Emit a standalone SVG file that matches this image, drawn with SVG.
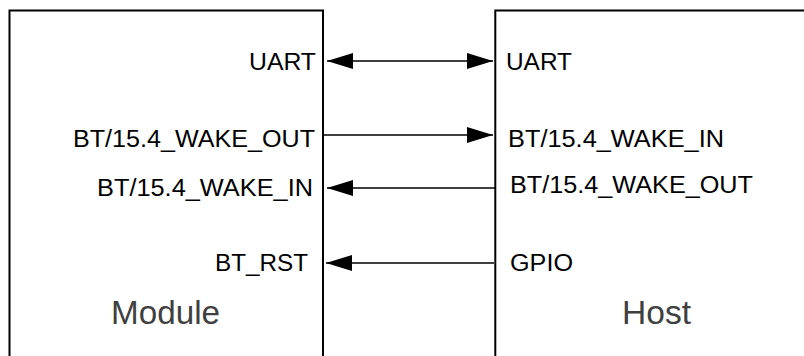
<svg xmlns="http://www.w3.org/2000/svg" width="804" height="356" viewBox="0 0 804 356">
<style>
.box{fill:none;stroke:#000;stroke-width:2}
.lbl{font-family:"Liberation Sans",Arial,sans-serif;font-size:23px;fill:#000}
.title{font-family:"Liberation Sans",Arial,sans-serif;font-size:33px;fill:#404040}
.wire{stroke:#000;stroke-width:1.6;fill:none}
</style>
<defs>
<marker id="ah" viewBox="0 0 26 16" refX="26" refY="8" markerWidth="26" markerHeight="16" markerUnits="userSpaceOnUse" orient="auto-start-reverse">
<path d="M0,0 L26,8 L0,16 Z" fill="#000"/>
</marker>
</defs>
<rect width="804" height="356" fill="#fff"/>
<g id="module">
<path class="box" d="M9.5,357 V10.5 H323 V357"/>
<text class="lbl" x="249" y="70" textLength="67" lengthAdjust="spacingAndGlyphs">UART</text>
<text class="lbl" x="73" y="147" textLength="242" lengthAdjust="spacingAndGlyphs">BT/15.4_WAKE_OUT</text>
<text class="lbl" x="97" y="196" textLength="216" lengthAdjust="spacingAndGlyphs">BT/15.4_WAKE_IN</text>
<text class="lbl" x="215" y="271" textLength="93" lengthAdjust="spacingAndGlyphs">BT_RST</text>
<text class="title" x="111" y="324" textLength="109" lengthAdjust="spacingAndGlyphs">Module</text>
</g>
<g id="host">
<path class="box" d="M495.3,357 V10.5 H805"/>
<text class="lbl" x="506" y="70" textLength="66" lengthAdjust="spacingAndGlyphs">UART</text>
<text class="lbl" x="508" y="147" textLength="216" lengthAdjust="spacingAndGlyphs">BT/15.4_WAKE_IN</text>
<text class="lbl" x="510" y="193" textLength="243" lengthAdjust="spacingAndGlyphs">BT/15.4_WAKE_OUT</text>
<text class="lbl" x="510" y="271" textLength="63" lengthAdjust="spacingAndGlyphs">GPIO</text>
<text class="title" x="622" y="324" textLength="69" lengthAdjust="spacingAndGlyphs">Host</text>
</g>
<g id="connectors">
<line class="wire" x1="327" y1="61" x2="493" y2="61" marker-start="url(#ah)" marker-end="url(#ah)"/>
<line class="wire" x1="324" y1="135" x2="493" y2="135" marker-end="url(#ah)"/>
<line class="wire" x1="495" y1="188" x2="327" y2="188" marker-end="url(#ah)"/>
<line class="wire" x1="494" y1="263" x2="326" y2="263" marker-end="url(#ah)"/>
</g>
</svg>
